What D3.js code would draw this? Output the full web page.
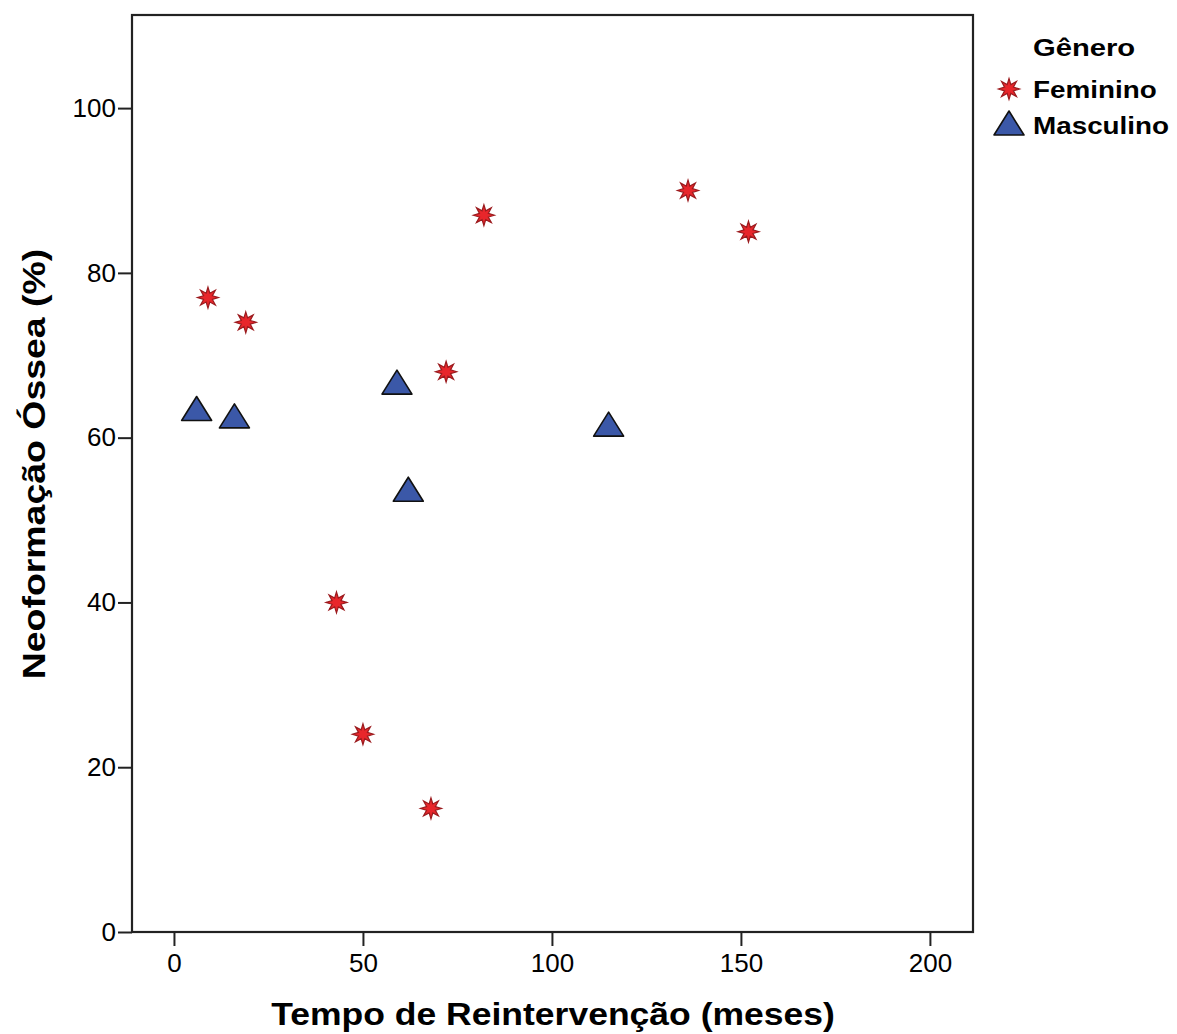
<!DOCTYPE html>
<html>
<head>
<meta charset="utf-8">
<script src="https://cdn.jsdelivr.net/npm/d3@7"></script>
<style>
  body { margin: 0; background: #fff; }
  text { font-family: "Liberation Sans", Arial, sans-serif; fill: #000; }
</style>
</head>
<body>
<svg id="chart" width="1177" height="1034"></svg>
<script>
// data
const femX = [9, 19, 43, 50, 68, 72, 82, 136, 152];
const femY = [77, 74, 40, 24, 15, 68, 87, 90, 85];
const mascX = [6, 16, 59, 62, 115];
const mascY = [63.3, 62.4, 66.5, 53.5, 61.4];
const xTicks = [0, 50, 100, 150, 200];
const yTicks = [0, 20, 40, 60, 80, 100];
const groups = ['Feminino', 'Masculino'];

const svg = d3.select('#chart');
const plotL = 132, plotR = 973, plotT = 15, plotB = 932;

const x = d3.scaleLinear().domain([-11.1, 211.4]).range([plotL, plotR]);
const y = d3.scaleLinear().domain([0, 111.3]).range([plotB, plotT]);

// star marker path (8 points)
function starPath(ro, ri) {
  const pts = [];
  for (let i = 0; i < 16; i++) {
    const a = Math.PI * i / 8 - Math.PI / 2;
    const r = i % 2 === 0 ? ro : ri;
    pts.push([r * Math.cos(a), r * Math.sin(a)]);
  }
  return 'M' + pts.map(p => p.join(',')).join('L') + 'Z';
}
const tri = 'M0,-14L15,10L-15,10Z';

function drawStar(g) {
  g.append('path').attr('d', starPath(10.5, 4.8))
    .attr('fill', '#e8262b').attr('stroke', '#9b1b1e').attr('stroke-width', 1.2);
}
function drawTri(g) {
  g.append('path').attr('d', tri)
    .attr('fill', '#3b58a8').attr('stroke', '#111').attr('stroke-width', 1.6)
    .attr('stroke-linejoin', 'round');
}

// axes
const xAxis = svg.append('g')
  .attr('transform', `translate(0,${plotB})`)
  .call(d3.axisBottom(x).tickValues(xTicks).tickSize(14).tickPadding(8));
const yAxis = svg.append('g')
  .attr('transform', `translate(${plotL},0)`)
  .call(d3.axisLeft(y).tickValues(yTicks).tickSize(14).tickPadding(2));
[xAxis, yAxis].forEach(a => {
  a.select('.domain').remove();
  a.selectAll('line').attr('stroke', '#222').attr('stroke-width', 2);
  a.selectAll('text').style('font-size', '26px').attr('fill', '#000');
});

// frame
svg.append('rect')
  .attr('x', plotL).attr('y', plotT)
  .attr('width', plotR - plotL).attr('height', plotB - plotT)
  .attr('fill', 'none').attr('stroke', '#222').attr('stroke-width', 2.2);

// points
femX.forEach((d, i) => {
  const g = svg.append('g').attr('transform', `translate(${x(d)},${y(femY[i])})`);
  drawStar(g);
});
mascX.forEach((d, i) => {
  const g = svg.append('g').attr('transform', `translate(${x(d)},${y(mascY[i])})`);
  drawTri(g);
});

// axis titles
svg.append('text')
  .attr('transform', 'translate(553,1025) scale(1.11,1)')
  .attr('text-anchor', 'middle')
  .style('font-size', '32px').style('font-weight', 'bold')
  .text('Tempo de Reintervenção (meses)');
svg.append('text')
  .attr('transform', 'translate(45,464) rotate(-90) scale(1.17,1)')
  .attr('text-anchor', 'middle')
  .style('font-size', '32px').style('font-weight', 'bold')
  .text('Neoformação Óssea (%)');

// legend
const legend = svg.append('g');
legend.append('text')
  .attr('transform', 'translate(1033,56) scale(1.27,1)')
  .style('font-size', '23px').style('font-weight', 'bold')
  .text('Gênero');
groups.forEach((name, i) => {
  const row = legend.append('g').attr('transform', `translate(1009,${89 + i * 36})`);
  if (i === 0) drawStar(row); else drawTri(row);
  row.append('text')
    .attr('transform', 'translate(24,9) scale(1.16,1)')
    .style('font-size', '24px').style('font-weight', 'bold')
    .text(name);
});
</script>
</body>
</html>
